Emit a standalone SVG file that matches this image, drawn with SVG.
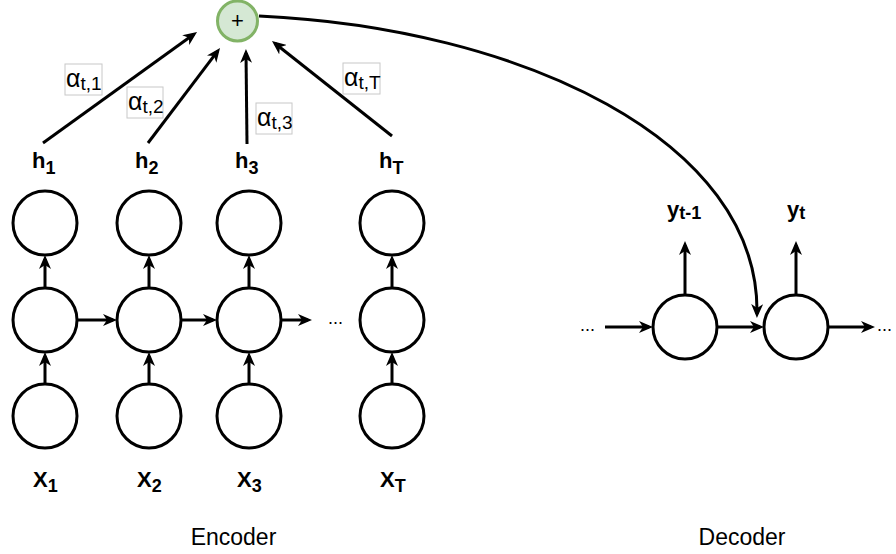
<svg xmlns="http://www.w3.org/2000/svg" width="896" height="554" viewBox="0 0 896 554">
  <style>
    .cell { fill: #ffffff; stroke: #000000; stroke-width: 3; }
    .sum { fill: #d5e8d4; stroke: #82b366; stroke-width: 3; }
    .edge { fill: none; stroke: #000000; stroke-width: 3; marker-end: url(#arrow); }
    .lbl { font-family: "Liberation Sans", Arial, sans-serif; font-weight: bold; font-size: 22px; fill: #000; }
    .sub { font-size: 18px; }
    .wbox { fill: #ffffff; stroke: #c8c8c8; stroke-width: 1; }
    .w { font-family: "Liberation Sans", Arial, sans-serif; font-size: 25px; fill: #000; }
    .wsub { font-size: 19px; }
    .cap { font-family: "Liberation Sans", Arial, sans-serif; font-size: 23px; fill: #000; text-anchor: middle; }
    .dots { font-family: "Liberation Sans", Arial, sans-serif; font-size: 18px; fill: #000; }
  </style>
  <defs>
    <marker id="arrow" markerUnits="userSpaceOnUse" markerWidth="14" markerHeight="12" viewBox="0 0 14 12" refX="10" refY="6" orient="auto">
      <path d="M0,0 L14,6 L0,12 L4,6 z" fill="#000"/>
    </marker>
  </defs>

  <rect width="896" height="554" fill="#ffffff"/>

  <!-- connectors -->
  <g id="connectors">
    <!-- encoder recurrence -->
    <line class="edge" x1="78" y1="320" x2="113" y2="320"/>
    <line class="edge" x1="182" y1="320" x2="213" y2="320"/>
    <line class="edge" x1="282" y1="320" x2="308" y2="320"/>
    <!-- inputs to hidden -->
    <line class="edge" x1="45" y1="384" x2="45" y2="356"/>
    <line class="edge" x1="149" y1="384" x2="149" y2="356"/>
    <line class="edge" x1="249" y1="384" x2="249" y2="356"/>
    <line class="edge" x1="392" y1="384" x2="392" y2="356"/>
    <!-- hidden to outputs -->
    <line class="edge" x1="45" y1="288" x2="45" y2="259"/>
    <line class="edge" x1="149" y1="288" x2="149" y2="259"/>
    <line class="edge" x1="249" y1="288" x2="249" y2="259"/>
    <line class="edge" x1="392" y1="288" x2="392" y2="259"/>
    <!-- weighted states into the sum -->
    <line class="edge" x1="43" y1="143" x2="193.8" y2="34.3"/>
    <line class="edge" x1="148" y1="143" x2="217.6" y2="51.2"/>
    <line class="edge" x1="247" y1="144" x2="246" y2="53"/>
    <line class="edge" x1="392" y1="136" x2="275.1" y2="43.5"/>
    <!-- context vector to decoder -->
    <path class="edge" d="M259,16 C520,28 760,140 757,314"/>
    <!-- decoder recurrence -->
    <line class="edge" x1="605" y1="327" x2="649" y2="327"/>
    <line class="edge" x1="717" y1="327" x2="760" y2="327"/>
    <line class="edge" x1="828" y1="327" x2="871" y2="327"/>
    <line class="edge" x1="685" y1="295" x2="685" y2="245"/>
    <line class="edge" x1="796" y1="295" x2="796" y2="245"/>
  </g>

  <!-- encoder column 1 -->
  <g id="enc-1">
    <circle class="cell" cx="45" cy="223" r="32"/>
    <circle class="cell" cx="45" cy="320" r="32"/>
    <circle class="cell" cx="45" cy="416" r="32"/>
    <text class="lbl" x="32" y="168">h<tspan class="sub" dy="6">1</tspan></text>
    <text class="lbl" x="33" y="487">X<tspan class="sub" dy="5">1</tspan></text>
  </g>
  <!-- encoder column 2 -->
  <g id="enc-2">
    <circle class="cell" cx="149" cy="223" r="32"/>
    <circle class="cell" cx="149" cy="320" r="32"/>
    <circle class="cell" cx="149" cy="416" r="32"/>
    <text class="lbl" x="135" y="168">h<tspan class="sub" dy="6">2</tspan></text>
    <text class="lbl" x="137" y="487">X<tspan class="sub" dy="5">2</tspan></text>
  </g>
  <!-- encoder column 3 -->
  <g id="enc-3">
    <circle class="cell" cx="249" cy="223" r="32"/>
    <circle class="cell" cx="249" cy="320" r="32"/>
    <circle class="cell" cx="249" cy="416" r="32"/>
    <text class="lbl" x="235" y="168">h<tspan class="sub" dy="6">3</tspan></text>
    <text class="lbl" x="237" y="487">X<tspan class="sub" dy="5">3</tspan></text>
  </g>
  <text class="dots" x="328" y="324">...</text>
  <!-- encoder column T -->
  <g id="enc-T">
    <circle class="cell" cx="392" cy="223" r="32"/>
    <circle class="cell" cx="392" cy="320" r="32"/>
    <circle class="cell" cx="392" cy="416" r="32"/>
    <text class="lbl" x="379" y="168">h<tspan class="sub" dy="6">T</tspan></text>
    <text class="lbl" x="380" y="487">X<tspan class="sub" dy="5">T</tspan></text>
  </g>

  <!-- attention weights -->
  <g id="w-1">
    <rect class="wbox" x="65" y="64" width="37" height="31"/>
    <text class="w" x="66" y="87">α<tspan class="wsub" dy="3">t,1</tspan></text>
  </g>
  <g id="w-2">
    <rect class="wbox" x="127" y="87" width="36" height="31"/>
    <text class="w" x="128" y="110">α<tspan class="wsub" dy="3">t,2</tspan></text>
  </g>
  <g id="w-3">
    <rect class="wbox" x="256" y="103" width="36" height="31"/>
    <text class="w" x="257" y="126">α<tspan class="wsub" dy="3">t,3</tspan></text>
  </g>
  <g id="w-T">
    <rect class="wbox" x="343" y="63" width="37" height="31"/>
    <text class="w" x="344" y="86">α<tspan class="wsub" dy="3">t,T</tspan></text>
  </g>

  <!-- weighted sum -->
  <g id="sum">
    <circle class="sum" cx="237.5" cy="21" r="20"/>
    <text x="237.5" y="28" font-family="Liberation Sans, Arial, sans-serif" font-size="22" text-anchor="middle">+</text>
  </g>

  <!-- decoder -->
  <text class="dots" x="580" y="331">...</text>
  <g id="dec-1">
    <circle class="cell" cx="685" cy="327" r="32"/>
    <text class="lbl" x="667" y="217">y<tspan class="sub" dy="2">t-1</tspan></text>
  </g>
  <g id="dec-2">
    <circle class="cell" cx="796" cy="327" r="32"/>
    <text class="lbl" x="787" y="217">y<tspan class="sub" dy="2">t</tspan></text>
  </g>
  <text class="dots" x="877" y="331">...</text>

  <!-- captions -->
  <text class="cap" x="233.5" y="545">Encoder</text>
  <text class="cap" x="742" y="545">Decoder</text>
</svg>
